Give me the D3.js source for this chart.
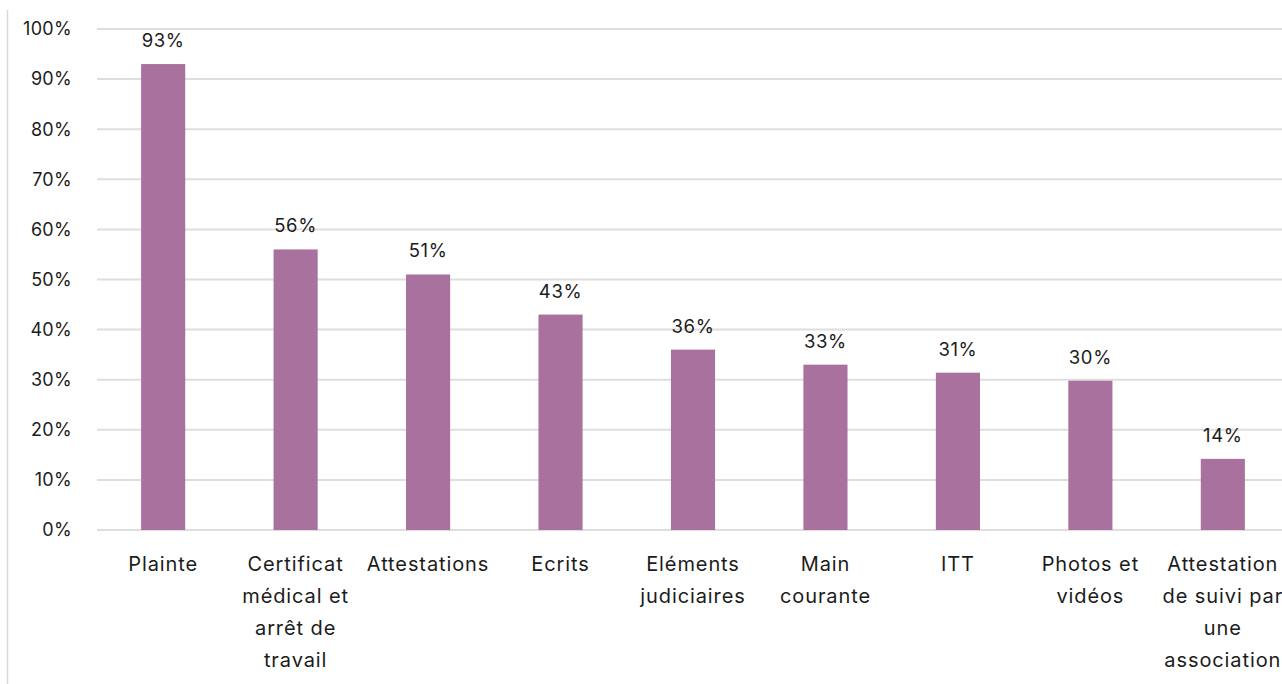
<!DOCTYPE html>
<html><head><meta charset="utf-8">
<script src="https://cdn.jsdelivr.net/npm/d3@7"></script>
<style>body{margin:0;background:#fff;overflow:hidden}svg{display:block;font-family:Inter,"Open Sans",sans-serif}</style>
</head><body><svg id="c" width="1282" height="684"></svg>
<script>
const categories = ["Plainte","Certificat médical et arrêt de travail","Attestations","Ecrits","Eléments judiciaires","Main courante","ITT","Photos et vidéos","Attestation de suivi par une association"];
const labelLines = [["Plainte"],["Certificat","médical et","arrêt de","travail"],["Attestations"],["Ecrits"],["Eléments","judiciaires"],["Main","courante"],["ITT"],["Photos et","vidéos"],["Attestation","de suivi par","une","association"]];
const values = [93,56,51,43,36,33,31.4,29.8,14.2];
const yTicks = [0,10,20,30,40,50,60,70,80,90,100];

const svg = d3.select("#c");
const x = d3.scaleBand().domain(categories).range([97, 1289]).paddingInner(0.667).paddingOuter(0.333);
const y = d3.scaleLinear().domain([0,100]).range([530, 29]);

svg.append("line").attr("x1",7.5).attr("x2",7.5).attr("y1",10).attr("y2",684).attr("stroke","#d9d9d9").attr("stroke-width",1.5);

const g = svg.append("g");
g.selectAll("line.grid").data(yTicks).join("line").attr("class","grid")
 .attr("x1",97).attr("x2",1282).attr("y1",d=>y(d)).attr("y2",d=>y(d))
 .attr("stroke","#dedede").attr("stroke-width",2);
g.selectAll("text.yt").data(yTicks).join("text").attr("class","yt")
 .attr("x",72).attr("y",d=>y(d)).attr("dy","0.35em").attr("text-anchor","end")
 .attr("font-size",18).attr("letter-spacing","0.3px").attr("fill","#1c1c1c").text(d=>d+"%");

g.selectAll("rect").data(values).join("rect")
 .attr("x",(d,i)=>x(categories[i])).attr("width",x.bandwidth())
 .attr("y",d=>y(d)).attr("height",d=>y(0)-y(d)).attr("fill","#a9719e");

g.selectAll("text.vl").data(values).join("text").attr("class","vl")
 .attr("x",(d,i)=>x(categories[i])+x.bandwidth()/2).attr("y",d=>y(d)-17)
 .attr("text-anchor","middle").attr("font-size",18.5).attr("letter-spacing","0.6px").attr("fill","#1c1c1c")
 .text(d=>Math.round(d)+"%");

categories.forEach((c,i)=>{
  const t = g.append("text").attr("x",x(c)+x.bandwidth()/2).attr("y",571)
   .attr("text-anchor","middle").attr("font-size",20).attr("letter-spacing","0.9px").attr("fill","#1c1c1c");
  labelLines[i].forEach((l,j)=>t.append("tspan").attr("x",x(c)+x.bandwidth()/2).attr("y",571+j*32).text(l));
});
</script></body></html>
